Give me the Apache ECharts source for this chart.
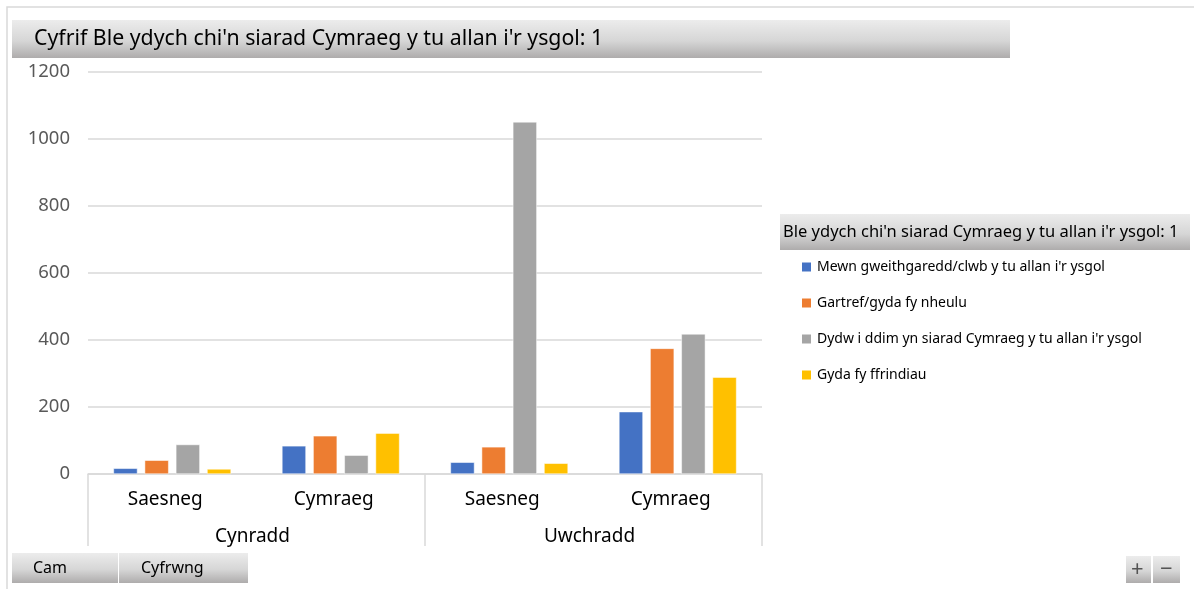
<!DOCTYPE html>
<html>
<head>
<meta charset="utf-8">
<script src="https://cdn.jsdelivr.net/npm/echarts@6/dist/echarts.min.js"></script>
<style>
  html, body { margin: 0; padding: 0; background: #fff; }
  #chart { width: 1194px; height: 589px; }
</style>
</head>
<body>
<div id="chart"></div>
<script>
const innerCats = ['Saesneg', 'Cymraeg', 'Saesneg', 'Cymraeg']
const outerCats = ['Cynradd', 'Uwchradd']
const seriesNames = [
  'Mewn gweithgaredd/clwb y tu allan i\'r ysgol',
  'Gartref/gyda fy nheulu',
  'Dydw i ddim yn siarad Cymraeg y tu allan i\'r ysgol',
  'Gyda fy ffrindiau'
]
const clwb = [17, 84, 35, 186]
const gartref = [41, 114, 81, 375]
const dydw = [88, 56, 1051, 418]
const ffrindiau = [15, 122, 32, 289]
const yTicks = [0, 200, 400, 600, 800, 1000, 1200]

const palette = ['#4472c4', '#ed7d31', '#a5a5a5', '#ffc000']
const font = 'Noto Sans'

function grad() {
  return new echarts.graphic.LinearGradient(0, 0, 0, 1, [
    { offset: 0, color: '#ececec' },
    { offset: 0.55, color: '#d6d6d6' },
    { offset: 1, color: '#aeacac' }
  ])
}

// grey gradient button / header box with a text label
function box(x, y, w, h, text, size, tx, color) {
  return [
    { type: 'rect', shape: { x, y, width: w, height: h }, style: { fill: grad() }, z: 10 },
    {
      type: 'text', x: x + tx, y: y + h / 2, z: 11,
      style: { text, fill: color || '#000', font: size + 'px "' + font + '"', textVerticalAlign: 'middle' }
    }
  ]
}

const chart = echarts.init(document.getElementById('chart'))

chart.setOption({
  animation: false,
  color: palette,
  textStyle: { fontFamily: font },
  grid: { left: 88, right: 432, top: 72, bottom: 115 },
  legend: {
    orient: 'vertical',
    left: 795,
    top: 252,
    icon: 'rect',
    itemWidth: 11,
    itemHeight: 11,
    itemGap: 16,
    textStyle: { fontSize: 14, color: '#000', fontFamily: font, lineHeight: 20 },
    data: seriesNames
  },
  xAxis: [
    {
      type: 'category',
      data: innerCats,
      axisLine: { lineStyle: { color: '#d9d9d9', width: 1.5 } },
      axisTick: { show: false },
      axisLabel: { color: '#000', fontSize: 19, margin: 16, padding: [0, 14, 0, 0], fontFamily: font }
    },
    {
      type: 'category',
      data: outerCats,
      position: 'bottom',
      axisLine: { show: false },
      axisTick: { show: true, length: 72, lineStyle: { color: '#d9d9d9', width: 1.5 } },
      axisLabel: { color: '#000', fontSize: 19, margin: 53, padding: [0, 8, 0, 0], fontFamily: font }
    }
  ],
  yAxis: {
    type: 'value',
    min: 0,
    max: 1200,
    interval: 200,
    axisLine: { show: false },
    axisTick: { show: false },
    axisLabel: {
      color: '#595959', fontSize: 18.5, margin: 18, fontFamily: font,
      formatter: v => (yTicks.includes(v) ? String(v) : '')
    },
    splitLine: { lineStyle: { color: '#d9d9d9', width: 1.5 } }
  },
  series: [clwb, gartref, dydw, ffrindiau].map((d, i) => ({
    name: seriesNames[i],
    type: 'bar',
    data: d,
    barWidth: 24,
    barGap: '30%',
    itemStyle: { borderColor: '#fff', borderWidth: 0.5 }
  })),
  graphic: [
    { type: 'rect', shape: { x: 7, y: 7, width: 1300, height: 700 }, style: { fill: 'none', stroke: '#d9d9d9', lineWidth: 1.5 }, z: 1 },
    ...box(12, 20, 998, 38, 'Cyfrif Ble ydych chi\'n siarad Cymraeg y tu allan i\'r ysgol: 1', 21.3, 22),
    ...box(780, 214, 410, 36, 'Ble ydych chi\'n siarad Cymraeg y tu allan i\'r ysgol: 1', 16.5, 3),
    ...box(12, 553, 106, 30, 'Cam', 16, 21),
    ...box(119, 553, 129, 30, 'Cyfrwng', 16, 22),
    ...box(1126, 556, 25, 27, '+', 22, 5, '#555'),
    ...box(1153, 556, 27, 27, '\u2212', 22, 7, '#555')
  ]
})
</script>
</body>
</html>
